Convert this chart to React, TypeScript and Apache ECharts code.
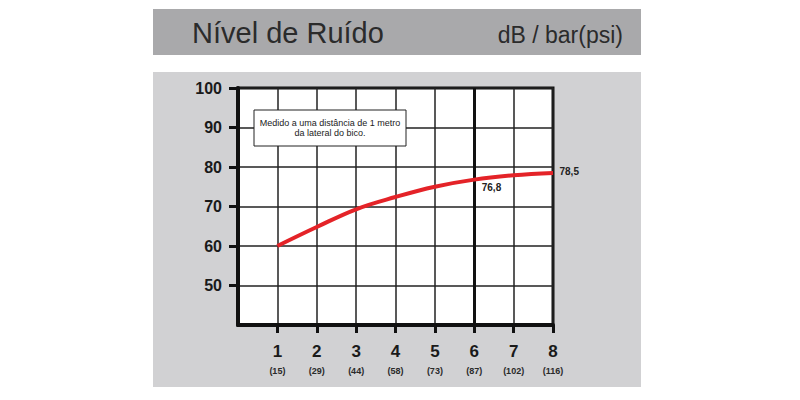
import React, { useEffect, useRef } from 'react';
import * as echarts from 'echarts';

// pressure in bar, with psi in brackets under each tick
const barValues = [1, 2, 3, 4, 5, 6, 7, 8];
const psiValues = [15, 29, 44, 58, 73, 87, 102, 116];
// noise level in dB
const noiseDb = [60, 64.8, 69.3, 72.4, 75, 76.8, 77.9, 78.5];
// only these points carry a value label
const labelledBars = [6, 8];
const yTicks = [50, 60, 70, 80, 90, 100];

const TITLE = 'Nível de Ruído';
const UNITS = 'dB / bar(psi)';
const NOTE = 'Medido a uma distância de 1 metro\nda lateral do bico.';

const App: React.FC = () => {
  const chartRef = useRef<HTMLDivElement>(null);

  useEffect(() => {
    document.body.style.margin = '0';
    if (!chartRef.current) return;
    const chart = echarts.init(chartRef.current, null, { renderer: 'svg' });

    const option = {
      animation: false,
      backgroundColor: '#ffffff',
      textStyle: { fontFamily: 'Liberation Sans, Arial, sans-serif' },
      graphic: [
        // header band
        {
          type: 'rect',
          shape: { x: 153, y: 9, width: 488, height: 46 },
          style: { fill: '#a9a9ab' },
          z: -10,
        },
        {
          type: 'text',
          x: 192,
          y: 33,
          style: {
            text: TITLE,
            fill: '#2b2b2b',
            font: '29px Liberation Sans, Arial, sans-serif',
            verticalAlign: 'middle',
            align: 'left',
          },
        },
        {
          type: 'text',
          x: 623,
          y: 35,
          style: {
            text: UNITS,
            fill: '#2b2b2b',
            font: '23px Liberation Sans, Arial, sans-serif',
            verticalAlign: 'middle',
            align: 'right',
          },
        },
        // chart panel
        {
          type: 'rect',
          shape: { x: 153, y: 72, width: 488, height: 315 },
          style: { fill: '#d1d1d3' },
          z: -10,
        },
        // note box, above the grid lines
        {
          type: 'rect',
          z: 100,
          shape: { x: 254, y: 110, width: 152, height: 36 },
          style: { fill: '#ffffff', stroke: '#222222', lineWidth: 1 },
        },
        {
          type: 'text',
          z: 101,
          x: 330,
          y: 128,
          style: {
            text: NOTE,
            fill: '#222222',
            font: '9px Liberation Sans, Arial, sans-serif',
            align: 'center',
            verticalAlign: 'middle',
            lineHeight: 10,
          },
        },
      ],
      grid: {
        left: 238,
        top: 88,
        width: 315,
        height: 237,
        show: true,
        backgroundColor: '#ffffff',
        borderColor: '#111111',
        borderWidth: 3,
      },
      xAxis: {
        type: 'value',
        min: 0,
        max: 8,
        interval: 1,
        axisLine: { show: true, lineStyle: { color: '#111111', width: 4 } },
        axisTick: {
          show: true,
          customValues: barValues,
          length: 8,
          lineStyle: { color: '#111111', width: 3 },
        },
        splitLine: { show: true, lineStyle: { color: '#222222', width: 1.5 } },
        axisLabel: {
          customValues: barValues,
          margin: 14,
          formatter: (v: number) => `{a|${v}}\n{b|(${psiValues[barValues.indexOf(v)]})}`,
          rich: {
            a: { fontSize: 17, fontWeight: 'bold', color: '#1a1a1a', lineHeight: 24 },
            b: { fontSize: 9, fontWeight: 'bold', color: '#2a2a2a', lineHeight: 16 },
          },
        },
      },
      yAxis: {
        type: 'value',
        min: 40,
        max: 100,
        interval: 10,
        axisLine: { show: true, lineStyle: { color: '#111111', width: 4 } },
        axisTick: {
          show: true,
          customValues: yTicks,
          length: 9,
          lineStyle: { color: '#111111', width: 3 },
        },
        splitLine: { show: true, lineStyle: { color: '#222222', width: 1.5 } },
        axisLabel: {
          customValues: yTicks,
          margin: 16,
          fontSize: 16,
          fontWeight: 'bold',
          color: '#1a1a1a',
        },
      },
      series: [
        {
          type: 'line',
          smooth: 0.4,
          symbol: 'circle',
          symbolSize: 1,
          showAllSymbol: true,
          itemStyle: { color: 'rgba(0,0,0,0)' },
          lineStyle: { color: '#e42328', width: 4 },
          z: 5,
          data: barValues.map((b, i) => ({
            value: [b, noiseDb[i]],
            label: labelledBars.includes(b)
              ? {
                  show: true,
                  position: 'right',
                  distance: b === 8 ? 6 : 5,
                  offset: b === 8 ? [0, -1] : [2, 8],
                  formatter: noiseDb[i].toFixed(1).replace('.', ','),
                  fontSize: 10,
                  fontWeight: 'bold',
                  color: '#222222',
                }
              : { show: false },
          })),
          markLine: {
            silent: true,
            symbol: 'none',
            label: { show: false },
            lineStyle: { color: '#111111', width: 3, type: 'solid' },
            data: [{ xAxis: 6 }],
          },
        },
      ],
    };

    chart.setOption(option);

    return () => {
      chart.dispose();
    };
  }, []);

  return <div ref={chartRef} style={{ width: '800px', height: '400px' }} />;
};

export default App;
